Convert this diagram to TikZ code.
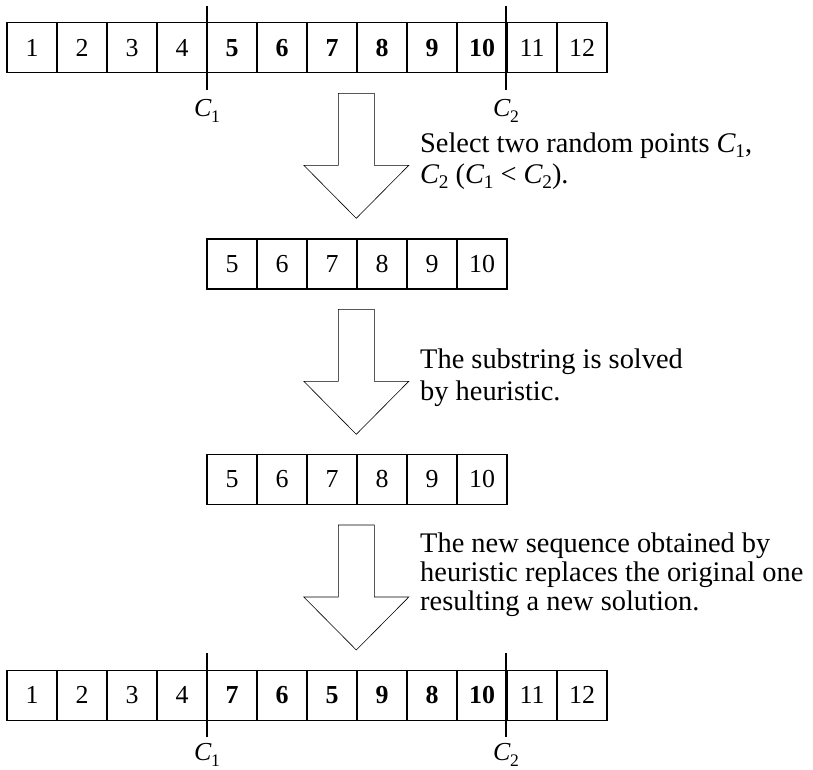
\documentclass[tikz,border=0pt]{standalone}
\usepackage{fontspec}
\setmainfont{Liberation Serif}
\newcommand\Cpt[1]{\textit{C}\kern-0.5bp\raisebox{-0.2em}{\fontsize{0.68em}{1em}\selectfont #1}}
\tikzset{
  cell/.style={draw, line width=1.2bp, minimum width=50bp, minimum height=50bp, inner sep=0pt, font=\fontsize{26}{28}\selectfont},
  cutline/.style={line width=1.3bp},
  cutlabel/.style={inner sep=0pt, font=\fontsize{26}{28}\selectfont},
  note/.style={anchor=base west, inner sep=0pt, font=\fontsize{28.5}{30}\selectfont},
  bigarrow/.pic={\draw[line width=0.6bp, fill=white] (-18,0) -- (18,0) -- (18,72) -- (52.5,72) -- (0,125) -- (-52.5,72) -- (-18,72) -- cycle;}
}
\begin{document}
\begin{tikzpicture}[x=1bp, y=-1bp]
\useasboundingbox (0,0) rectangle (813,770);
% top row
\foreach \v [count=\i] in {1,2,3,4,\textbf{5},\textbf{6},\textbf{7},\textbf{8},\textbf{9},\textbf{10},11,12}
  \node[cell] (a\i) at ({32+50*(\i-1)},47.7) {\v};
\coordinate (a1t) at (207,6); \coordinate (a1b) at (207,90);
\coordinate (a2t) at (506,6); \coordinate (a2b) at (506,90);
\draw[cutline] (a1t) -- (a1b);
\draw[cutline] (a2t) -- (a2b);
\node[cutlabel] (ac1) at (207,111) {\Cpt{1}};
\node[cutlabel] (ac2) at (506,111) {\Cpt{2}};
% arrow 1
\pic at (356.3,93.3) {bigarrow};
\node[note] (t1a) at (420,152) {Select two random points \Cpt{1},};
\node[note] (t1b) at (420,183) {\Cpt{2} (\Cpt{1} < \Cpt{2}).};
% middle row
\foreach \v [count=\i] in {5,6,7,8,9,10}
  \node[cell] (b\i) at ({232+50*(\i-1)},264) {\v};
% arrow 2
\pic at (356.3,309.3) {bigarrow};
\node[note] (t2a) at (420,368) {The substring is solved};
\node[note] (t2b) at (420,400) {by heuristic.};
% third row
\foreach \v [count=\i] in {5,6,7,8,9,10}
  \node[cell] (c\i) at ({232+50*(\i-1)},479.3) {\v};
% arrow 3
\pic at (356.3,525) {bigarrow};
\node[note] (t3a) at (420,552) {The new sequence obtained by};
\node[note] (t3b) at (420,581) {heuristic replaces the original one};
\node[note] (t3c) at (420,610) {resulting a new solution.};
% bottom row
\foreach \v [count=\i] in {1,2,3,4,\textbf{7},\textbf{6},\textbf{5},\textbf{9},\textbf{8},\textbf{10},11,12}
  \node[cell] (d\i) at ({32+50*(\i-1)},695.3) {\v};
\coordinate (d1t) at (207,653); \coordinate (d1b) at (207,737);
\coordinate (d2t) at (506,653); \coordinate (d2b) at (506,737);
\draw[cutline] (d1t) -- (d1b);
\draw[cutline] (d2t) -- (d2b);
\node[cutlabel] (dc1) at (207,755) {\Cpt{1}};
\node[cutlabel] (dc2) at (506,755) {\Cpt{2}};
\end{tikzpicture}
\end{document}
